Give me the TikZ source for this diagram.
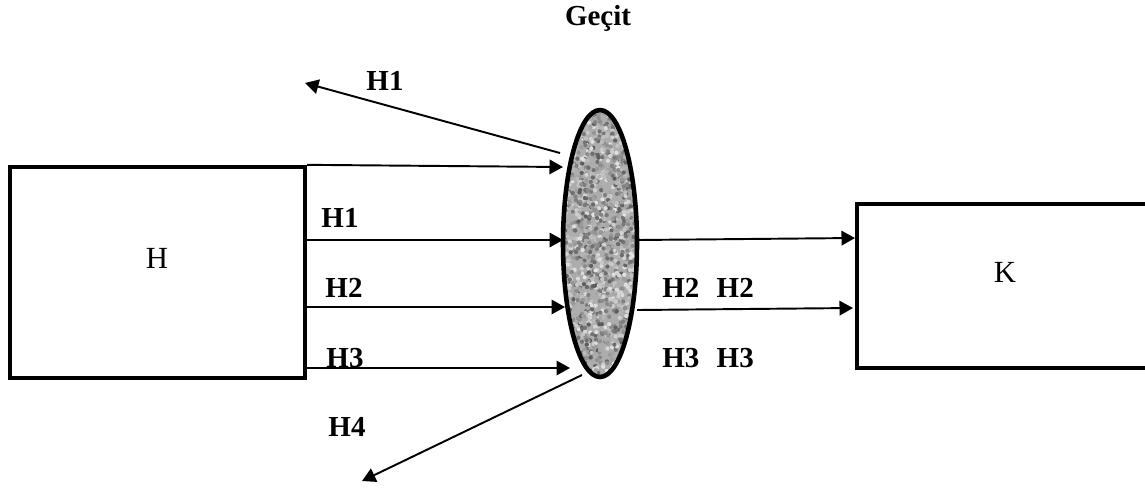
\documentclass[tikz,border=0pt]{standalone}
\usepackage{fontspec}
\setmainfont{Liberation Serif}
\usetikzlibrary{shapes.geometric,arrows.meta,calc}
\tikzset{
  boxnode/.style={draw, line width=2.5pt, inner sep=0pt},
  gate/.style={ellipse, draw, line width=2.6pt, inner sep=0pt, fill=black!32},
  arr/.style={line width=1.1pt, -{Triangle[length=0.27cm, width=0.29cm]}},
  lbl/.style={font=\fontsize{16.5}{20}\selectfont\bfseries, inner sep=0pt},
  plain/.style={font=\fontsize{17.5}{20}\selectfont, inner sep=0pt}
}
\begin{document}
\begin{tikzpicture}[x=0.02cm, y=-0.02cm]
\useasboundingbox (0,0) rectangle (1145,488);
% boxes
\node[boxnode, minimum width=5.9cm, minimum height=4.22cm] (H) at (157.5,272.5) {};
\node[plain] (Ht) at (157,258) {H};
\node[boxnode, minimum width=6.06cm, minimum height=3.28cm] (K) at (1008.5,286) {};
\node[plain] (Kt) at (1005,272) {K};
% gate
\pgfmathsetseed{7}
\node[gate, minimum width=1.48cm, minimum height=5.34cm,
  path picture={
    \foreach \i in {1,...,1600} {
      \pgfmathsetmacro\s{int(10+55*rnd)}
      \fill[black!\s] ($(path picture bounding box.center)+(rand*38,rand*135)$) circle (1.2pt);
    }
  }] (G) at (600,243.5) {};
\node[lbl] (gt) at (598,18) {Geçit};
% arrow end points
\coordinate (t0) at (563,167);
\coordinate (t1) at (563,240);
\coordinate (t2) at (565,307);
\coordinate (t3) at (570,368);
\coordinate (u0) at (560,153);
\coordinate (u1) at (305,83);
\coordinate (d0) at (582,375);
\coordinate (d1) at (362,481);
\coordinate (s1) at (637,240);
\coordinate (s2) at (637,310);
\coordinate (e1) at (855,238);
\coordinate (e2) at (853,308);
% arrows
\draw[arr] (H.north east) -- (t0);
\draw[arr] (t1 -| H.east) -- (t1);
\draw[arr] (t2 -| H.east) -- (t2);
\draw[arr] (t3 -| H.east) -- (t3);
\draw[arr] (u0) -- (u1);
\draw[arr] (d0) -- (d1);
\draw[arr] (s1) -- (e1);
\draw[arr] (s2) -- (e2);
% labels
\node[lbl] (l1) at (385,81) {H1};
\node[lbl] (l2) at (340,218) {H1};
\node[lbl] (l3) at (344,288) {H2};
\node[lbl] (l4) at (345,358) {H3};
\node[lbl] (l5) at (347,427) {H4};
\node[lbl] (l6) at (708,288) {H2\hspace{0.6em}H2};
\node[lbl] (l7) at (708,358) {H3\hspace{0.6em}H3};
\end{tikzpicture}
\end{document}
